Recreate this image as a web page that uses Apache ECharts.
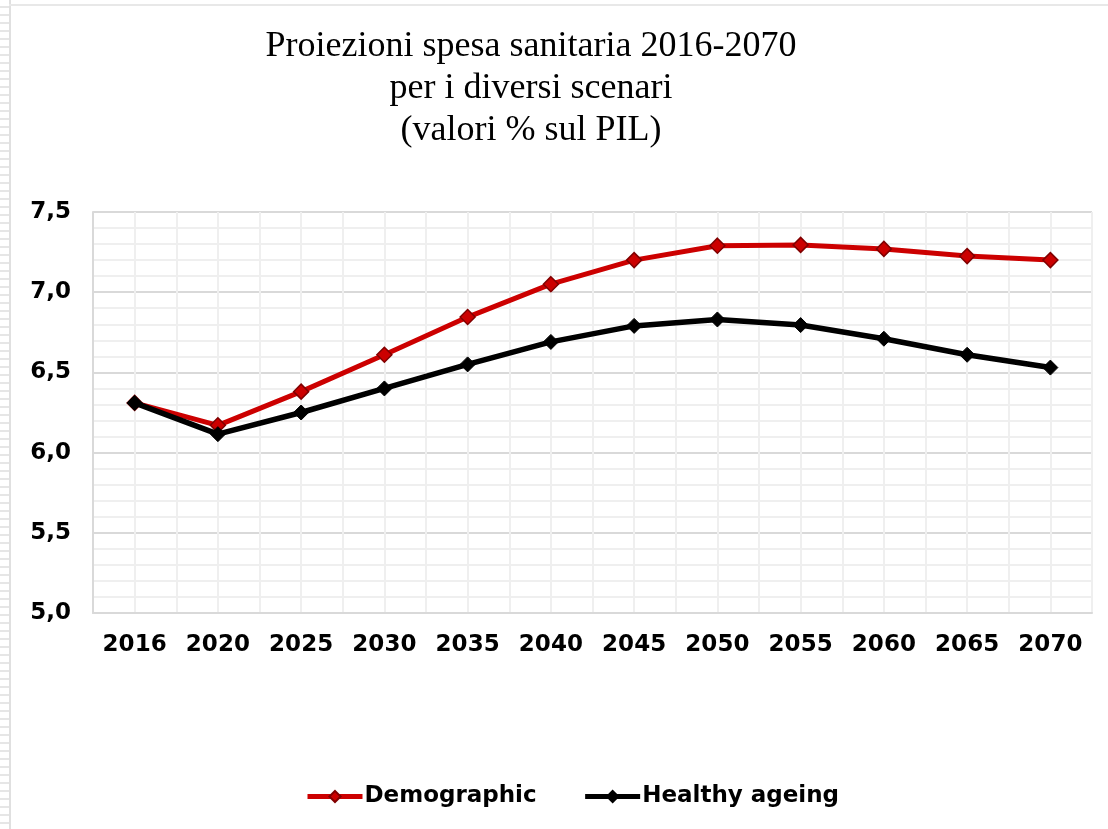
<!DOCTYPE html>
<html>
<head>
<meta charset="utf-8">
<script src="https://cdn.jsdelivr.net/npm/echarts@6/dist/echarts.min.js"></script>
<style>
html,body{margin:0;padding:0;background:#fff;}
#edge{position:absolute;left:0;top:0;width:9px;height:829px;border-right:2px solid #e0e0e0;
background:repeating-linear-gradient(to bottom,#fff 0px,#fff 6px,#e6e6e6 6px,#e6e6e6 8px);}
#topedge{position:absolute;left:9px;top:4px;width:1099px;height:0;border-top:2px solid #e8e8e8;}
#chart{position:absolute;left:0;top:0;width:1108px;height:829px;}
</style>
</head>
<body>
<div id="edge"></div>
<div id="topedge"></div>
<div id="chart"></div>
<script>
const categories = ['2016','2020','2025','2030','2035','2040','2045','2050','2055','2060','2065','2070'];
const demographic = [6.31, 6.17, 6.38, 6.61, 6.845, 7.05, 7.20, 7.29, 7.295, 7.27, 7.225, 7.20];
const healthyAgeing = [6.31, 6.115, 6.25, 6.40, 6.55, 6.69, 6.79, 6.83, 6.795, 6.71, 6.61, 6.53];
const seriesNames = ['Demographic', 'Healthy ageing'];
const titleText = 'Proiezioni spesa sanitaria 2016-2070\nper i diversi scenari\n(valori % sul PIL)';

const chart = echarts.init(document.getElementById('chart'), null, {renderer: 'canvas'});
const labelFont = {fontFamily: 'DejaVu Sans', fontWeight: 'bold', fontSize: 23, color: '#000'};
chart.setOption({
  backgroundColor: 'transparent',
  animation: false,
  title: {
    text: titleText,
    left: 526, top: 21, textAlign: 'center',
    textStyle: {fontFamily: 'Liberation Serif', fontWeight: 'normal', fontSize: 36, lineHeight: 42, color: '#000'}
  },
  grid: {left: 93, right: 16, top: 212, bottom: 216, containLabel: false},
  legend: {
    data: [
      {name: seriesNames[0], lineStyle: {width: 5, color: '#cc0000'}},
      {name: seriesNames[1], lineStyle: {width: 5, color: '#000'}}
    ],
    bottom: 16, left: 300,
    itemWidth: 55, itemHeight: 14, itemGap: 46,
    textStyle: Object.assign({}, labelFont, {fontSize: 23, padding: [0,0,0,-3]})
  },
  xAxis: [{
    type: 'category', data: categories, boundaryGap: true,
    axisLine: {show: true, lineStyle: {color: '#d9d9d9', width: 2}},
    axisTick: {show: false},
    axisLabel: Object.assign({}, labelFont, {margin: 21}),
    splitLine: {show: true, lineStyle: {color: '#d9d9d9', width: 2}}
  }, {
    type: 'value', min: 0, max: 24, interval: 1, show: true,
    position: 'top', axisLine: {show: false}, axisTick: {show: false}, axisLabel: {show: false},
    splitLine: {show: true, lineStyle: {color: '#efefef', width: 2}}
  }],
  yAxis: {
    type: 'value', min: 5, max: 7.5, interval: 0.5,
    axisLine: {show: true, lineStyle: {color: '#d9d9d9', width: 2}},
    axisTick: {show: false},
    axisLabel: Object.assign({}, labelFont, {margin: 22, formatter: v => v.toFixed(1).replace('.', ',')}),
    splitLine: {show: true, lineStyle: {color: '#d9d9d9', width: 2}},
    minorTick: {show: false, splitNumber: 5},
    minorSplitLine: {show: true, lineStyle: {color: '#efefef', width: 2}}
  },
  series: [{
    name: seriesNames[0], type: 'line', data: demographic, xAxisIndex: 0,
    symbol: 'diamond', symbolSize: 15, z: 2,
    lineStyle: {color: '#cc0000', width: 5},
    itemStyle: {color: '#cc0000', borderColor: '#800000', borderWidth: 1.5}
  }, {
    name: seriesNames[1], type: 'line', data: healthyAgeing, xAxisIndex: 0,
    symbol: 'diamond', symbolSize: 15, z: 3,
    lineStyle: {color: '#000', width: 5.5},
    itemStyle: {color: '#000', borderColor: '#000', borderWidth: 1}
  }]
});
</script>
</body>
</html>
